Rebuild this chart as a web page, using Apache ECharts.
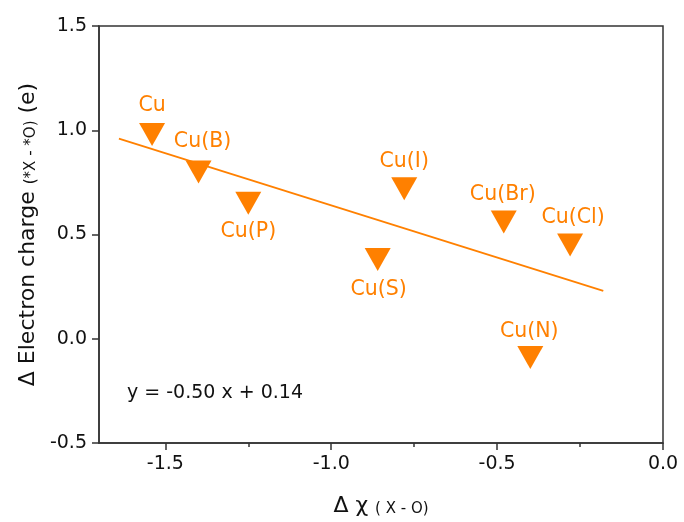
<!DOCTYPE html>
<html><head><meta charset="utf-8">
<script src="https://cdn.jsdelivr.net/npm/echarts@6/dist/echarts.min.js"></script>
<style>html,body{margin:0;padding:0;background:#fff}#c{width:684px;height:522px}</style>
</head><body><div id="c"></div>
<script>
// ---- data ----
const names = ['Cu', 'Cu(B)', 'Cu(P)', 'Cu(S)', 'Cu(I)', 'Cu(Br)', 'Cu(Cl)', 'Cu(N)'];
const deltaChi = [-1.54, -1.40, -1.25, -0.86, -0.78, -0.48, -0.28, -0.40];
const deltaCharge = [0.98, 0.80, 0.65, 0.38, 0.72, 0.56, 0.45, -0.09];
const fitX = [-1.64, -0.18];
const fitY = [0.96, 0.23];
const xMajorTicks = [-1.5, -1.0, -0.5, 0.0];
const xMinorTicks = [-1.5, -1.25, -1.0, -0.75, -0.5, -0.25, 0.0];
const equationText = 'y = -0.50 x + 0.14';

// ---- styles ----
const FONT = 'DejaVu Sans';
const ORANGE = '#FF8000';
const AXIS = '#333';
const labelOffsets = {
  'Cu': [0, -29], 'Cu(B)': [4, -30], 'Cu(P)': [0, 28], 'Cu(S)': [1, 30],
  'Cu(I)': [0, -27], 'Cu(Br)': [-1, -27], 'Cu(Cl)': [3, -27], 'Cu(N)': [-1, -26]
};

const chart = echarts.init(document.getElementById('c'), null, {renderer: 'canvas'});
const fmt = v => Number(v).toFixed(1);

chart.setOption({
  animation: false,
  backgroundColor: '#fff',
  grid: {left: 99, right: 21, top: 26, bottom: 79, show: true, borderColor: AXIS, borderWidth: 1.5, backgroundColor: 'transparent'},
  xAxis: [{
    type: 'value', min: -1.7, max: 0, position: 'bottom',
    axisLine: {show: true, onZero: false, lineStyle: {color: AXIS, width: 1.5}},
    axisTick: {show: true, length: 7, customValues: xMajorTicks, lineStyle: {color: AXIS, width: 1.5}},
    axisLabel: {customValues: xMajorTicks, formatter: fmt, fontSize: 19, color: '#111', margin: 12, fontFamily: FONT},
    splitLine: {show: false},
    name: '{m|Δ χ }{s|( X - O)}',
    nameLocation: 'middle', nameGap: 48,
    nameTextStyle: {
      rich: {
        m: {fontSize: 22, fontFamily: FONT, color: '#111', lineHeight: 26, verticalAlign: 'bottom'},
        s: {fontSize: 15, fontFamily: FONT, color: '#111', lineHeight: 15, verticalAlign: 'bottom'}
      }
    }
  }, {
    type: 'value', min: -1.7, max: 0, position: 'bottom',
    axisLine: {show: false, onZero: false},
    axisTick: {show: true, length: 4, customValues: xMinorTicks, lineStyle: {color: AXIS, width: 1.5}},
    axisLabel: {show: false},
    splitLine: {show: false}
  }],
  yAxis: {
    type: 'value', min: -0.5, max: 1.5, interval: 0.5,
    axisLine: {show: true, onZero: false, lineStyle: {color: AXIS, width: 1.5}},
    axisTick: {show: true, length: 7, lineStyle: {color: AXIS, width: 1.5}},
    axisLabel: {formatter: fmt, fontSize: 19, color: '#111', margin: 12, fontFamily: FONT},
    splitLine: {show: false},
    name: '{m|Δ Electron charge }{s|(*X - *O)}{m| (e)}',
    nameLocation: 'middle', nameGap: 50,
    nameTextStyle: {
      rich: {
        m: {fontSize: 22, fontFamily: FONT, color: '#111', lineHeight: 26, verticalAlign: 'bottom'},
        s: {fontSize: 15, fontFamily: FONT, color: '#111', lineHeight: 15, verticalAlign: 'bottom'}
      }
    }
  },
  graphic: [{
    type: 'text', left: 127, top: 384,
    style: {text: equationText, font: '19px "DejaVu Sans"', fill: '#111'}
  }],
  series: [{
    type: 'line', xAxisIndex: 0,
    data: fitX.map((x, i) => [x, fitY[i]]),
    symbol: 'none', showSymbol: false, silent: true, z: 1,
    lineStyle: {color: ORANGE, width: 1.8}
  }, {
    type: 'scatter', xAxisIndex: 0, z: 3,
    symbol: 'triangle', symbolRotate: 180, symbolSize: [26, 23],
    itemStyle: {color: ORANGE, opacity: 1},
    label: {show: true, position: 'inside', formatter: '{b}', color: ORANGE, fontSize: 20.5, fontFamily: FONT},
    data: names.map((n, i) => ({name: n, value: [deltaChi[i], deltaCharge[i]], label: {offset: labelOffsets[n]}}))
  }]
});
</script>
</body></html>
